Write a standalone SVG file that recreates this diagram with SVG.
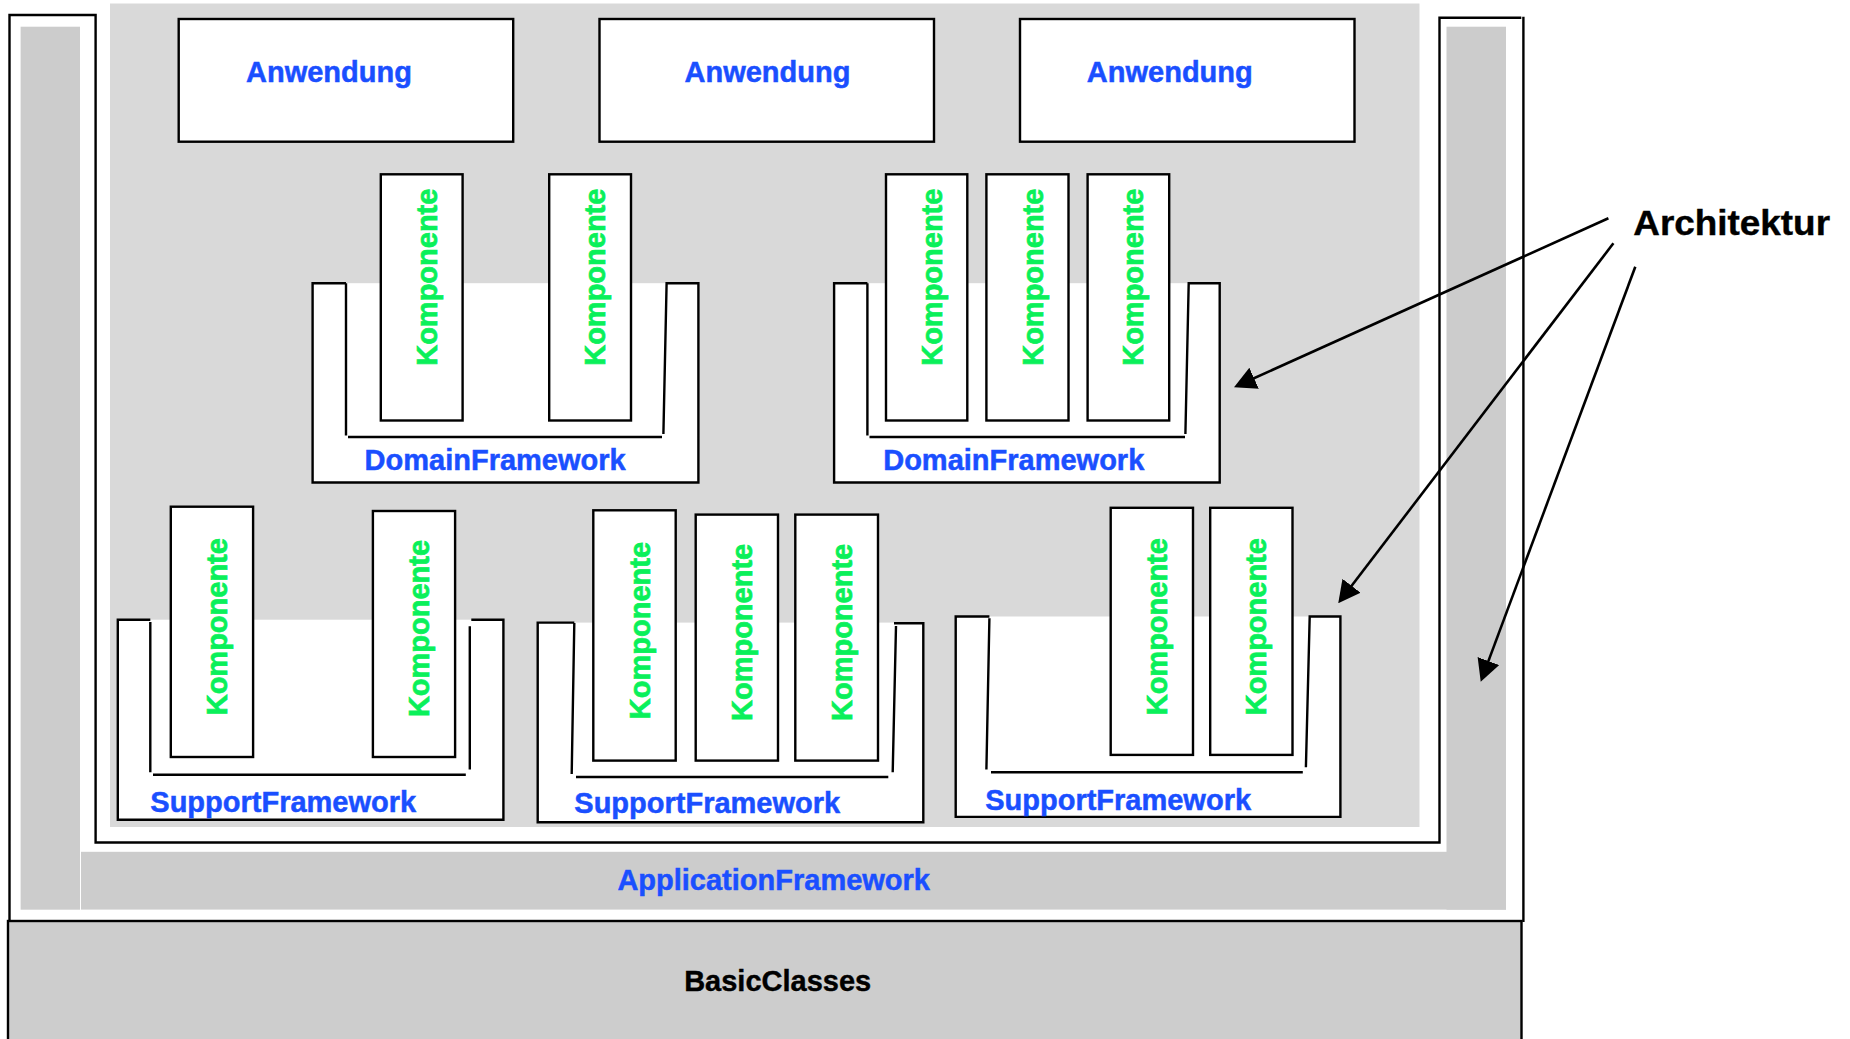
<svg xmlns="http://www.w3.org/2000/svg" width="1850" height="1039" viewBox="0 0 1850 1039">
<style>
.ln{fill:none;stroke:#000;stroke-width:2.4}
.box{fill:#fff;stroke:#000;stroke-width:2.4}
.wh{fill:#fff;stroke:none}
.g1{fill:#cccccc}
.g2{fill:#d9d9d9}
.t{font-family:"Liberation Sans",Arial,sans-serif;font-weight:bold;font-size:29px}
.blue{fill:#1a4fff;stroke:#1a4fff;stroke-width:0.5}
.green{fill:#0af05a;stroke:#0af05a;stroke-width:0.7}
.blk{fill:#000;stroke:#000;stroke-width:0.4}
.ar{fill:none;stroke:#000;stroke-width:2.6}
</style>
<defs>
<marker id="ah" markerUnits="userSpaceOnUse" markerWidth="22" markerHeight="23" refX="16" refY="11.5" orient="auto" viewBox="0 0 22 23">
<path d="M0,0 L22,11.5 L0,23 Z" fill="#000"/>
</marker>
</defs>
<rect width="1850" height="1039" fill="#fff"/>

<g id="application-framework">
<rect class="g2" x="110" y="3.5" width="1309.5" height="823.5"/>
<rect class="g1" x="20.6" y="26.7" width="59.4" height="883"/>
<rect class="g1" x="81" y="851.8" width="1425" height="57.8"/>
<rect class="g1" x="1446.5" y="26.7" width="59.5" height="883"/>
<path class="ln" d="M9.5,921 V15 H95.6 V842.5 H1439.5 V17.7 H1521.3"/>
<path class="ln" d="M1523.4,16.7 V922"/>
<text class="t blue" x="773.7" y="890" text-anchor="middle">ApplicationFramework</text>
</g>

<g id="basic-classes">
<rect x="8" y="921" width="1513.5" height="130" fill="#cdcdcd" stroke="#000" stroke-width="2.4"/>
<text class="t blk" x="777.7" y="990.5" text-anchor="middle">BasicClasses</text>
</g>

<g id="anwendung-1">
<rect class="box" x="178.7" y="19" width="334.5" height="122.7"/>
<text class="t blue" x="329" y="81.7" text-anchor="middle">Anwendung</text>
</g>
<g id="anwendung-2">
<rect class="box" x="599.5" y="19" width="334.5" height="122.7"/>
<text class="t blue" x="767.5" y="81.7" text-anchor="middle">Anwendung</text>
</g>
<g id="anwendung-3">
<rect class="box" x="1020" y="19" width="334.5" height="122.7"/>
<text class="t blue" x="1169.8" y="81.7" text-anchor="middle">Anwendung</text>
</g>

<g id="domain-framework-1">
<rect class="wh" x="312.6" y="283.2" width="385.8" height="199.3"/>
<path class="ln" d="M346,283.2 H312.6 V482.5 H698.4 V283.2 H666.6 L663.4,434 M346,283.2 V435.5 M348,437 H662"/>
<text class="t blue" x="364.6" y="470">DomainFramework</text>
</g>
<g id="domain-framework-2">
<rect class="wh" x="834.1" y="283.2" width="385.6" height="199.3"/>
<path class="ln" d="M867.4,283.2 H834.1 V482.5 H1219.7 V283.2 H1188.7 L1185.4,434 M867.4,283.2 V435.5 M869.5,437 H1185"/>
<text class="t blue" x="883.2" y="470">DomainFramework</text>
</g>
<g id="support-framework-1">
<rect class="wh" x="117.8" y="619.7" width="385.6" height="200"/>
<path class="ln" d="M150.3,619.7 H117.8 V819.7 H503.4 V619.7 H471.3 M469.8,626.2 V769.5 M150.3,622 V772.3 M153,774.8 H465.8"/>
<text class="t blue" x="150.3" y="812.3">SupportFramework</text>
</g>
<g id="support-framework-2">
<rect class="wh" x="537.7" y="622.6" width="385.6" height="199.6"/>
<path class="ln" d="M574.3,622.6 H537.7 V822.2 H923.3 V623.3 H894 M896,626 L892.7,772.3 M574.3,623 L571.7,774 M576,777 H888.3"/>
<text class="t blue" x="574.3" y="813.3">SupportFramework</text>
</g>
<g id="support-framework-3">
<rect class="wh" x="955.7" y="616.5" width="384.7" height="200.4"/>
<path class="ln" d="M989.4,616.5 H955.7 V816.9 H1340.4 V616.5 H1309.7 L1305.9,767.3 M989.4,618.3 L986.4,769.5 M991,772.3 H1302.8"/>
<text class="t blue" x="985.2" y="809.8">SupportFramework</text>
</g>

<g id="df1-komponente-1">
<rect class="box" x="380.8" y="174.3" width="81.8" height="246.2"/>
<text class="t green" transform="translate(436.7,277.2) rotate(-90)" text-anchor="middle">Komponente</text>
</g>
<g id="df1-komponente-2">
<rect class="box" x="549.2" y="174.3" width="81.8" height="246.2"/>
<text class="t green" transform="translate(605.1,277.2) rotate(-90)" text-anchor="middle">Komponente</text>
</g>
<g id="df2-komponente-1">
<rect class="box" x="886" y="174.3" width="81.3" height="246.2"/>
<text class="t green" transform="translate(941.7,277.2) rotate(-90)" text-anchor="middle">Komponente</text>
</g>
<g id="df2-komponente-2">
<rect class="box" x="986.4" y="174.3" width="82.1" height="246.2"/>
<text class="t green" transform="translate(1042.5,277.2) rotate(-90)" text-anchor="middle">Komponente</text>
</g>
<g id="df2-komponente-3">
<rect class="box" x="1087.6" y="174.3" width="81.6" height="246.2"/>
<text class="t green" transform="translate(1143.4,277.2) rotate(-90)" text-anchor="middle">Komponente</text>
</g>

<g id="sf1-komponente-1">
<rect class="box" x="170.8" y="506.7" width="82.3" height="250.3"/>
<text class="t green" transform="translate(226.5,626.7) rotate(-90)" text-anchor="middle">Komponente</text>
</g>
<g id="sf1-komponente-2">
<rect class="box" x="372.9" y="511" width="82.2" height="246"/>
<text class="t green" transform="translate(429,628.5) rotate(-90)" text-anchor="middle">Komponente</text>
</g>
<g id="sf2-komponente-1">
<rect class="box" x="593.3" y="510.3" width="82.4" height="250.3"/>
<text class="t green" transform="translate(649.5,630.6) rotate(-90)" text-anchor="middle">Komponente</text>
</g>
<g id="sf2-komponente-2">
<rect class="box" x="695.7" y="514.6" width="82.3" height="246"/>
<text class="t green" transform="translate(751.8,632.4) rotate(-90)" text-anchor="middle">Komponente</text>
</g>
<g id="sf2-komponente-3">
<rect class="box" x="795.3" y="514.6" width="82.7" height="246"/>
<text class="t green" transform="translate(851.6,632.4) rotate(-90)" text-anchor="middle">Komponente</text>
</g>
<g id="sf3-komponente-1">
<rect class="box" x="1110.7" y="507.8" width="82.3" height="247.1"/>
<text class="t green" transform="translate(1166.8,626.7) rotate(-90)" text-anchor="middle">Komponente</text>
</g>
<g id="sf3-komponente-2">
<rect class="box" x="1210.2" y="507.8" width="82.3" height="247.1"/>
<text class="t green" transform="translate(1266.3,626.7) rotate(-90)" text-anchor="middle">Komponente</text>
</g>

<g id="architektur">
<text class="t blk" x="1633.3" y="235" style="font-size:35px" textLength="196.7" lengthAdjust="spacingAndGlyphs">Architektur</text>
</g>

<g id="connectors">
<path class="ar" d="M1608.4,218.3 L1239.5,384.8" marker-end="url(#ah)"/>
<path class="ar" d="M1613.4,243.3 L1341.9,598.5" marker-end="url(#ah)"/>
<path class="ar" d="M1635.3,266.7 L1482.8,676.1" marker-end="url(#ah)"/>
</g>
</svg>
